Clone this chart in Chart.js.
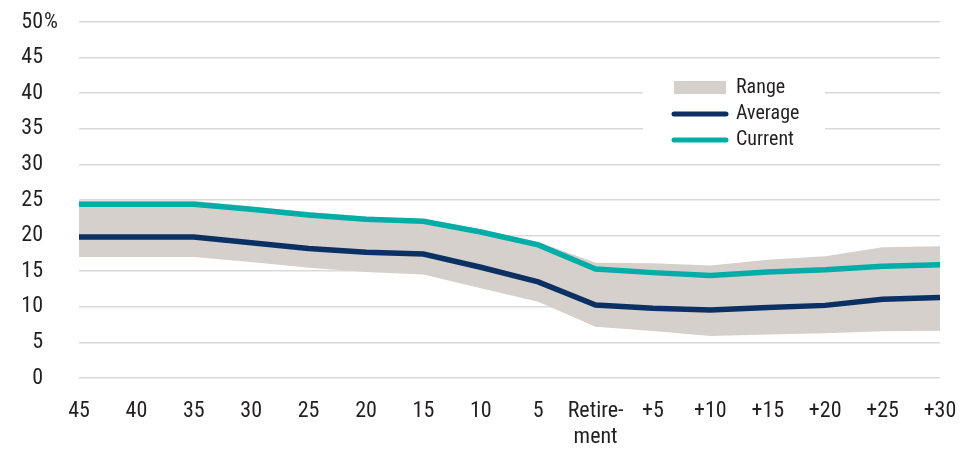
<!DOCTYPE html>
<html>
<head>
<meta charset="utf-8">
<script src="https://cdn.jsdelivr.net/npm/chart.js@4/dist/chart.umd.min.js"></script>
<style>
  html, body { margin: 0; padding: 0; background: #fff; }
  #wrap { width: 960px; height: 450px; position: relative; }
</style>
</head>
<body>
<div id="wrap"><canvas id="chart"></canvas></div>
<script>
const categories = ['45', '40', '35', '30', '25', '20', '15', '10', '5', ['Retire-', 'ment'], '+5', '+10', '+15', '+20', '+25', '+30'];
const rangeLow  = [17.0, 17.0, 17.0, 16.3, 15.5, 14.9, 14.55, 12.6, 10.7, 7.2, 6.6, 5.9, 6.1, 6.3, 6.55, 6.65];
const rangeHigh = [24.9, 24.9, 24.9, 24.1, 23.3, 22.7, 22.3, 20.9, 19.1, 16.2, 16.1, 15.8, 16.6, 17.1, 18.35, 18.5];
const average   = [19.8, 19.8, 19.8, 19.0, 18.2, 17.65, 17.4, 15.55, 13.5, 10.25, 9.8, 9.55, 9.9, 10.2, 11.05, 11.3];
const current   = [24.4, 24.4, 24.4, 23.7, 22.9, 22.3, 22.0, 20.5, 18.7, 15.3, 14.8, 14.4, 14.9, 15.2, 15.7, 15.9];
const yTicks = [0, 5, 10, 15, 20, 25, 30, 35, 40, 45, 50];

const rangeColor = '#D5D0CB';
const averageColor = '#0B3063';
const currentColor = '#00ADA7';
const textColor = '#231F20';
const fontFamily = "'Roboto Condensed', 'Liberation Sans Narrow', sans-serif";

// legend drawn inside the plot, on a white box over the gridlines
const boxLegend = {
    id: 'boxLegend',
    afterDraw(chart) {
        const ctx = chart.ctx;
        ctx.save();
        ctx.fillStyle = '#fff';
        ctx.fillRect(643, 74, 182, 78);

        ctx.fillStyle = rangeColor;
        ctx.fillRect(674, 81, 52, 13);

        ctx.lineCap = 'round';
        ctx.lineWidth = 5;
        ctx.strokeStyle = averageColor;
        ctx.beginPath(); ctx.moveTo(674, 114); ctx.lineTo(726, 114); ctx.stroke();
        ctx.strokeStyle = currentColor;
        ctx.beginPath(); ctx.moveTo(674, 140); ctx.lineTo(726, 140); ctx.stroke();

        ctx.fillStyle = textColor;
        ctx.font = '20px ' + fontFamily;
        ctx.textBaseline = 'middle';
        ctx.textAlign = 'left';
        ctx.fillText('Range', 736, 88);
        ctx.fillText('Average', 736, 114);
        ctx.fillText('Current', 736, 140);

        // percent sign after the top tick
        const y = chart.scales.y;
        ctx.font = '22px ' + fontFamily;
        ctx.fillText('%', 44, y.getPixelForValue(50));
        ctx.restore();
    }
};

const ctx = document.getElementById('chart').getContext('2d');
new Chart(ctx, {
    type: 'line',
    plugins: [boxLegend],
    data: {
        labels: categories,
        datasets: [
            {
                label: 'RangeLow',
                data: rangeLow,
                borderWidth: 0,
                pointRadius: 0,
                fill: false,
                order: 3
            },
            {
                label: 'Range',
                data: rangeHigh,
                borderWidth: 0,
                pointRadius: 0,
                backgroundColor: rangeColor,
                fill: '-1',
                order: 3
            },
            {
                label: 'Average',
                data: average,
                borderColor: averageColor,
                borderWidth: 5.5,
                pointRadius: 0,
                fill: false,
                order: 2
            },
            {
                label: 'Current',
                data: current,
                borderColor: currentColor,
                borderWidth: 5.5,
                pointRadius: 0,
                fill: false,
                order: 1
            }
        ]
    },
    options: {
        responsive: true,
        maintainAspectRatio: false,
        animation: false,
        layout: {
            padding: {left: 20, right: 20, top: 22, bottom: 0}
        },
        plugins: {
            legend: {display: false},
            tooltip: {enabled: false}
        },
        scales: {
            x: {
                offset: false,
                grid: {display: false, drawTicks: false},
                border: {display: false},
                afterFit: (axis) => {
                    axis.height = 72;
                    axis.paddingLeft = 0;
                    axis.paddingRight = 0;
                },
                ticks: {
                    color: textColor,
                    font: {family: fontFamily, size: 22, lineHeight: '26px'},
                    padding: 20,
                    maxRotation: 0,
                    autoSkip: false
                }
            },
            y: {
                min: 0,
                max: 50,
                afterBuildTicks: (axis) => { axis.ticks = yTicks.map(v => ({value: v})); },
                afterFit: (axis) => {
                    axis.width = 59;
                    axis.paddingTop = 0;
                    axis.paddingBottom = 0;
                },
                grid: {color: '#D9D9D9', lineWidth: 1.5, drawTicks: false},
                border: {display: false},
                ticks: {
                    color: textColor,
                    font: {family: fontFamily, size: 22},
                    padding: 36
                }
            }
        }
    }
});
</script>
</body>
</html>
